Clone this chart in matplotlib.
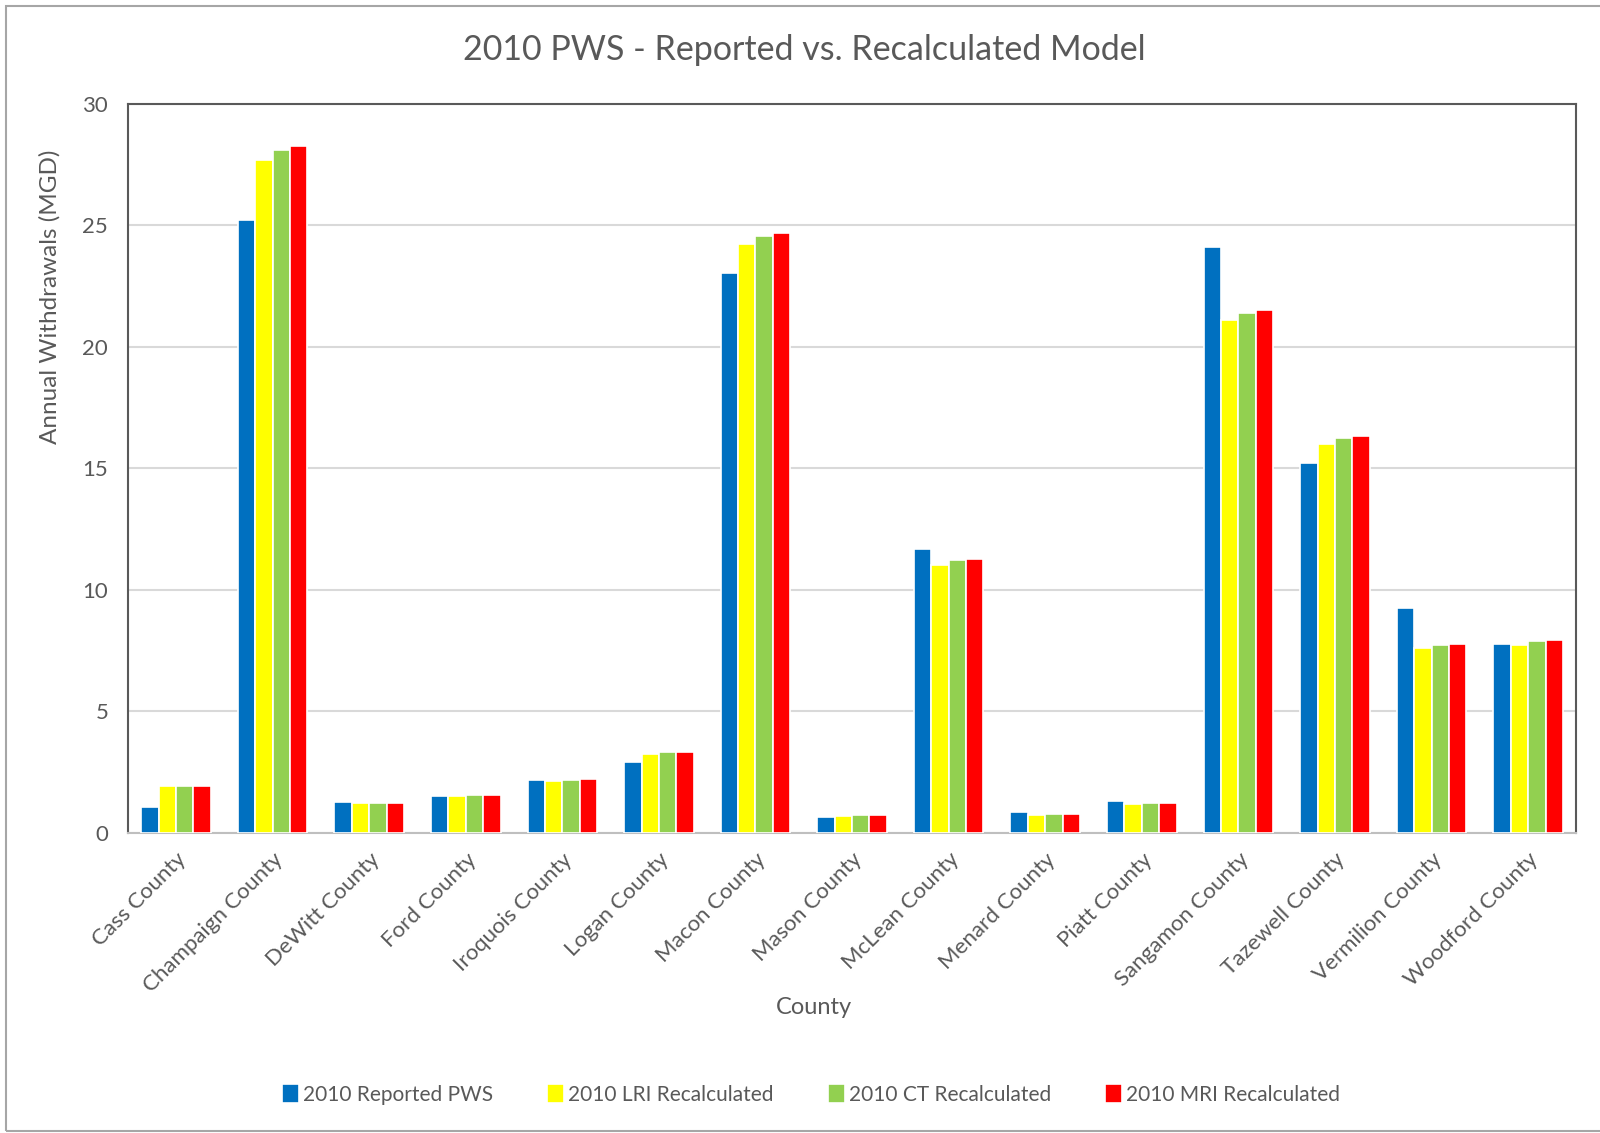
import matplotlib
matplotlib.use("Agg")
import matplotlib.pyplot as plt
import numpy as np
from matplotlib.patches import Rectangle

plt.rcParams["font.family"] = ["Lato", "DejaVu Sans"]

counties = [
    "Cass County", "Champaign County", "DeWitt County", "Ford County",
    "Iroquois County", "Logan County", "Macon County", "Mason County",
    "McLean County", "Menard County", "Piatt County", "Sangamon County",
    "Tazewell County", "Vermilion County", "Woodford County",
]

reported_pws = [1.05, 25.23, 1.26, 1.50, 2.17, 2.92, 23.03, 0.66, 11.67, 0.85, 1.31, 24.12, 15.22, 9.26, 7.78]
lri_recalc = [1.92, 27.70, 1.21, 1.52, 2.14, 3.25, 24.24, 0.70, 11.03, 0.74, 1.19, 21.11, 16.00, 7.59, 7.74]
ct_recalc = [1.93, 28.12, 1.22, 1.55, 2.17, 3.32, 24.57, 0.73, 11.22, 0.77, 1.22, 21.40, 16.24, 7.71, 7.88]
mri_recalc = [1.93, 28.28, 1.22, 1.55, 2.20, 3.32, 24.69, 0.73, 11.27, 0.77, 1.22, 21.53, 16.33, 7.75, 7.92]

series_names = ["2010 Reported PWS", "2010 LRI Recalculated", "2010 CT Recalculated", "2010 MRI Recalculated"]
series_colors = ["#0070C0", "#FFFF00", "#92D050", "#FF0000"]

TEXT = "#595959"

fig = plt.figure(figsize=(16, 11.33), dpi=100)
ax = fig.add_axes([0.0798, 0.2651, 0.9055, 0.6431])

x = np.arange(len(counties))
step = 0.18
for i, (vals, name, color) in enumerate(zip([reported_pws, lri_recalc, ct_recalc, mri_recalc],
                                            series_names, series_colors)):
    ax.bar(x + (i - 1.5) * step, vals, width=step, color=color, edgecolor="white",
           linewidth=1.2, label=name, zorder=3)

ax.set_xlim(-0.5, len(counties) - 0.5)
ax.set_ylim(0, 30)
ax.set_yticks(range(0, 31, 5))
ax.yaxis.grid(True, color="#D9D9D9", linewidth=1.5, zorder=0)
ax.set_axisbelow(True)

for side in ["left", "top", "right"]:
    ax.spines[side].set_color("#595959")
    ax.spines[side].set_linewidth(1.5)
ax.spines["bottom"].set_color("#BFBFBF")
ax.spines["bottom"].set_linewidth(1.5)

ax.tick_params(axis="y", length=0, pad=14, labelsize=16, labelcolor=TEXT)
ax.tick_params(axis="x", length=0, pad=12, labelsize=16, labelcolor=TEXT)
ax.set_xticks(x)
ax.set_xticklabels(counties, rotation=45, ha="right", rotation_mode="anchor")

fig.text(0.503, 0.956, "2010 PWS - Reported vs. Recalculated Model", ha="center", va="center",
         fontsize=24.5, color=TEXT)
fig.text(0.031, 0.738, "Annual Withdrawals (MGD)", rotation=90, ha="center", va="center",
         fontsize=17.5, color=TEXT)
fig.text(0.509, 0.111, "County", ha="center", va="center", fontsize=17, color=TEXT)

fig.legend(loc="center", bbox_to_anchor=(0.507, 0.034), ncol=4, frameon=False,
           fontsize=15, labelcolor=TEXT, handlelength=0.8, handleheight=1.0,
           handletextpad=0.2, columnspacing=2.6)

# chart border
fig.patches.append(Rectangle((0.004, 0.002), 1.1, 0.993, transform=fig.transFigure,
                             fill=False, edgecolor="#A6A6A6", linewidth=1.5))

fig.savefig("out.png", dpi=100)
